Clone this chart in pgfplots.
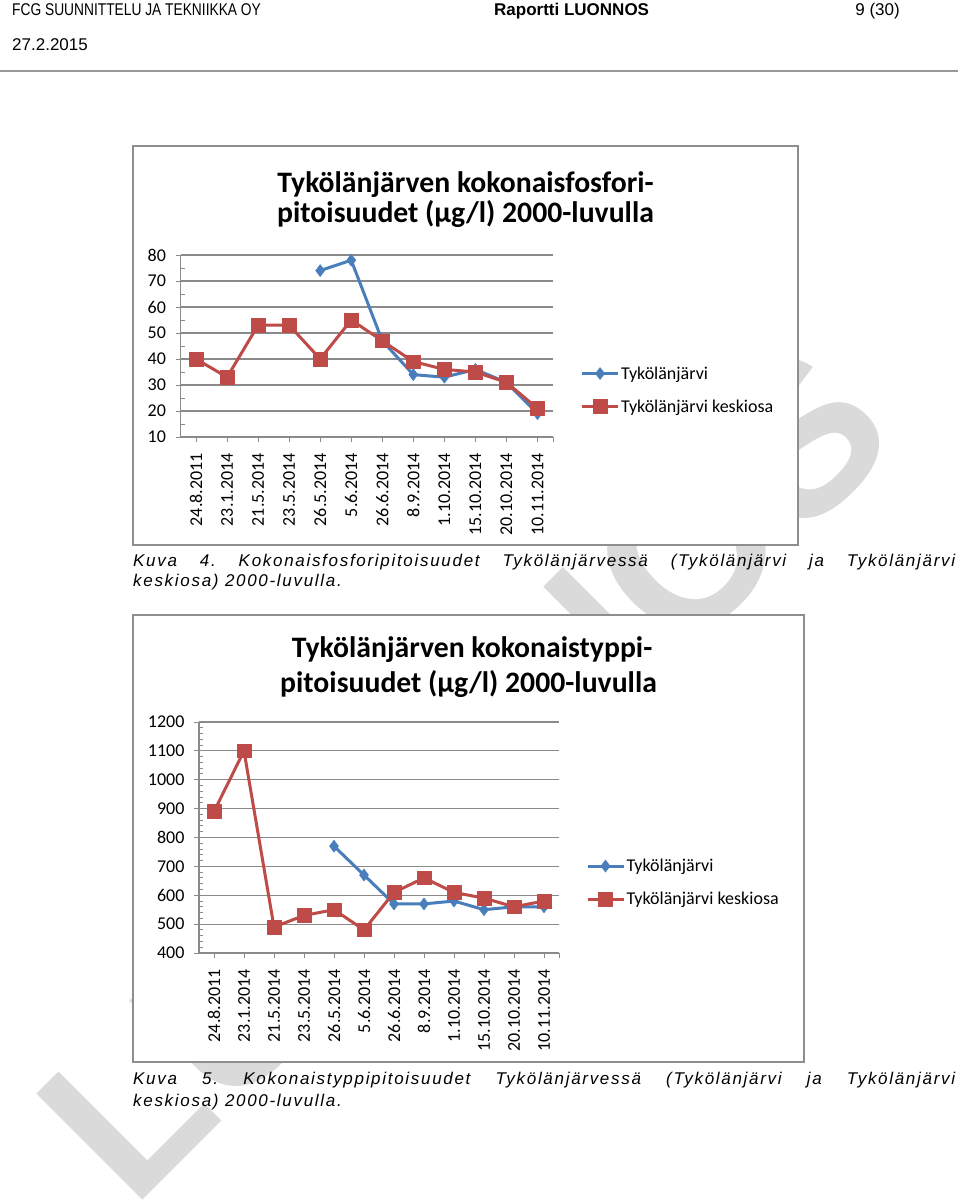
\documentclass[border=0pt]{standalone}
\usepackage{fontspec}
\usepackage{graphicx}
\usepackage{pgfplots}
\usepackage{pgfplotstable}
\pgfplotsset{compat=1.18}
\setmainfont{Liberation Sans}
\newfontfamily\calibri{Carlito}
\newfontfamily\capfont[LetterSpace=10]{Liberation Sans}
\definecolor{exblue}{HTML}{4A7EBB}
\definecolor{exred}{HTML}{BE4B48}
\definecolor{exgray}{HTML}{8A8A8A}
\definecolor{framegray}{HTML}{8E8E8E}
\definecolor{wmgray}{HTML}{DADADA}

\pgfplotstableread{
x tyk kes
0 nan 40
1 nan 33
2 nan 53
3 nan 53
4 74 40
5 78 55
6 47 47
7 34 39
8 33 36
9 36 35
10 31 31
11 19 21
}\phos

\pgfplotstableread{
x tyk kes
0 nan 890
1 nan 1100
2 nan 490
3 nan 530
4 770 550
5 670 480
6 570 610
7 570 660
8 580 610
9 550 590
10 560 560
11 560 580
}\nitr

\pgfplotsset{
 exstyle/.style={
  scale only axis,
  axis x line*=bottom,
  axis y line*=left,
  xmin=-0.5, xmax=11.5,
  xtick={0,...,11},
  xticklabels={24.8.2011,23.1.2014,21.5.2014,23.5.2014,26.5.2014,5.6.2014,26.6.2014,8.9.2014,1.10.2014,15.10.2014,20.10.2014,10.11.2014},
  extra x ticks={11.5}, extra x tick labels={},
  x tick label style={rotate=90, anchor=east, inner sep=11pt, font=\calibri\fontsize{18}{18}\selectfont},
  /pgf/number format/assume math mode=true,
  /pgf/number format/1000 sep={},
  y tick label style={font=\calibri\fontsize{18}{18}\selectfont, xshift=-6pt},
  ymajorgrids,
  major grid style={exgray, line width=1.1pt},
  axis line style={exgray, line width=1.1pt},
  tick style={exgray, line width=1pt},
  major tick length=5pt,
  minor tick length=4pt,
  tick align=outside,
  minor y tick style={xshift=4pt},
  xtick pos=bottom, ytick pos=left,
  unbounded coords=jump,
  clip=false,
  legend style={draw=none, fill=none, font=\calibri\fontsize{18}{18}\selectfont, row sep=16pt, inner sep=0pt, outer sep=0pt, nodes={inner sep=1.5pt}},
  legend cell align=left,
  legend image code/.code={\draw[mark repeat=2, mark phase=2, line width=3pt] plot coordinates {(0pt,0pt) (18pt,0pt) (36pt,0pt)};},
 },
 bluestyle/.style={exblue, line width=3pt, line join=round, mark=diamond*, mark size=6pt, mark options={solid, line width=0.5pt}},
 redstyle/.style={exred, line width=3pt, line join=round, mark=square*, mark size=6.8pt, mark options={solid, line width=0.5pt}},
}

\begin{document}
\frenchspacing
\begin{tikzpicture}
\useasboundingbox (0pt,0pt) rectangle (960pt,-1204pt);
\fill[white] (0pt,0pt) rectangle (960pt,-1204pt);

% watermark
\node[rotate=45, anchor=base west, inner sep=0pt, text=wmgray, font=\fontsize{218}{218}\selectfont\bfseries] at (132pt,-1211pt) {LUONNOS};

% header
\node[anchor=base west, inner sep=0pt] at (12pt,-16pt) {\fontsize{17}{17}\selectfont\scalebox{0.81}[1]{FCG SUUNNITTELU JA TEKNIIKKA OY}};
\node[anchor=base west, inner sep=0pt] at (494pt,-16pt) {\fontsize{17}{17}\selectfont\bfseries Raportti LUONNOS};
\node[anchor=base east, inner sep=0pt] at (900pt,-16pt) {\fontsize{17}{17}\selectfont 9 (30)};
\node[anchor=base west, inner sep=0pt] at (12pt,-51pt) {\fontsize{17}{17}\selectfont 27.2.2015};
\draw[black!40, line width=2pt] (0pt,-71pt) -- (958pt,-71pt);

% frames
\draw[framegray, line width=2pt, fill=white] (133pt,-146pt) rectangle (798pt,-545pt);
\draw[framegray, line width=2pt, fill=white] (133pt,-615pt) rectangle (804pt,-1062pt);

% titles
\node[anchor=base, inner sep=0pt, font=\calibri\bfseries\fontsize{29.7}{30}\selectfont] at (465.5pt,-192pt) {Tykölänjärven kokonaisfosfori-};
\node[anchor=base, inner sep=0pt, font=\calibri\bfseries\fontsize{29.7}{30}\selectfont] at (465.5pt,-222pt) {pitoisuudet (µg/l) 2000-luvulla};
\node[anchor=base, inner sep=0pt, font=\calibri\bfseries\fontsize{29.7}{30}\selectfont] at (472pt,-657pt) {Tykölänjärven kokonaistyppi-};
\node[anchor=base, inner sep=0pt, font=\calibri\bfseries\fontsize{29.7}{30}\selectfont] at (468.5pt,-692pt) {pitoisuudet (µg/l) 2000-luvulla};

% chart 1
\begin{axis}[exstyle, at={(180.5pt,-437pt)}, anchor=south west,
  width=372.5pt, height=182pt, ymin=10, ymax=80, ytick={10,20,...,80}, minor y tick num=1,
  legend style={at={(1.074,0.258)}, anchor=west}]
\addplot[bluestyle] table[x=x, y=tyk] {\phos};
\addplot[redstyle] table[x=x, y=kes] {\phos};
\legend{Tykölänjärvi, Tykölänjärvi keskiosa}
\end{axis}

% chart 2
\begin{axis}[exstyle, at={(199pt,-953pt)}, anchor=south west,
  width=360pt, height=231pt, ymin=400, ymax=1200, ytick={400,500,...,1200}, minor y tick num=4,
  legend style={at={(1.075,0.305)}, anchor=west}]
\addplot[bluestyle] table[x=x, y=tyk] {\nitr};
\addplot[redstyle] table[x=x, y=kes] {\nitr};
\legend{Tykölänjärvi, Tykölänjärvi keskiosa}
\end{axis}

% captions
\node[anchor=base west, inner sep=0pt] at (133pt,-566pt) {\capfont\itshape\fontsize{17}{19}\selectfont\makebox[822pt][s]{Kuva 4. Kokonaisfosforipitoisuudet Tykölänjärvessä (Tykölänjärvi ja Tykölänjärvi}};
\node[anchor=base west, inner sep=0pt] at (133pt,-586pt) {\capfont\itshape\fontsize{17}{19}\selectfont keskiosa) 2000-luvulla.};
\node[anchor=base west, inner sep=0pt] at (133pt,-1084pt) {\capfont\itshape\fontsize{17}{19}\selectfont\makebox[822pt][s]{Kuva 5. Kokonaistyppipitoisuudet Tykölänjärvessä (Tykölänjärvi ja Tykölänjärvi}};
\node[anchor=base west, inner sep=0pt] at (133pt,-1106pt) {\capfont\itshape\fontsize{17}{19}\selectfont keskiosa) 2000-luvulla.};
\end{tikzpicture}
\end{document}
